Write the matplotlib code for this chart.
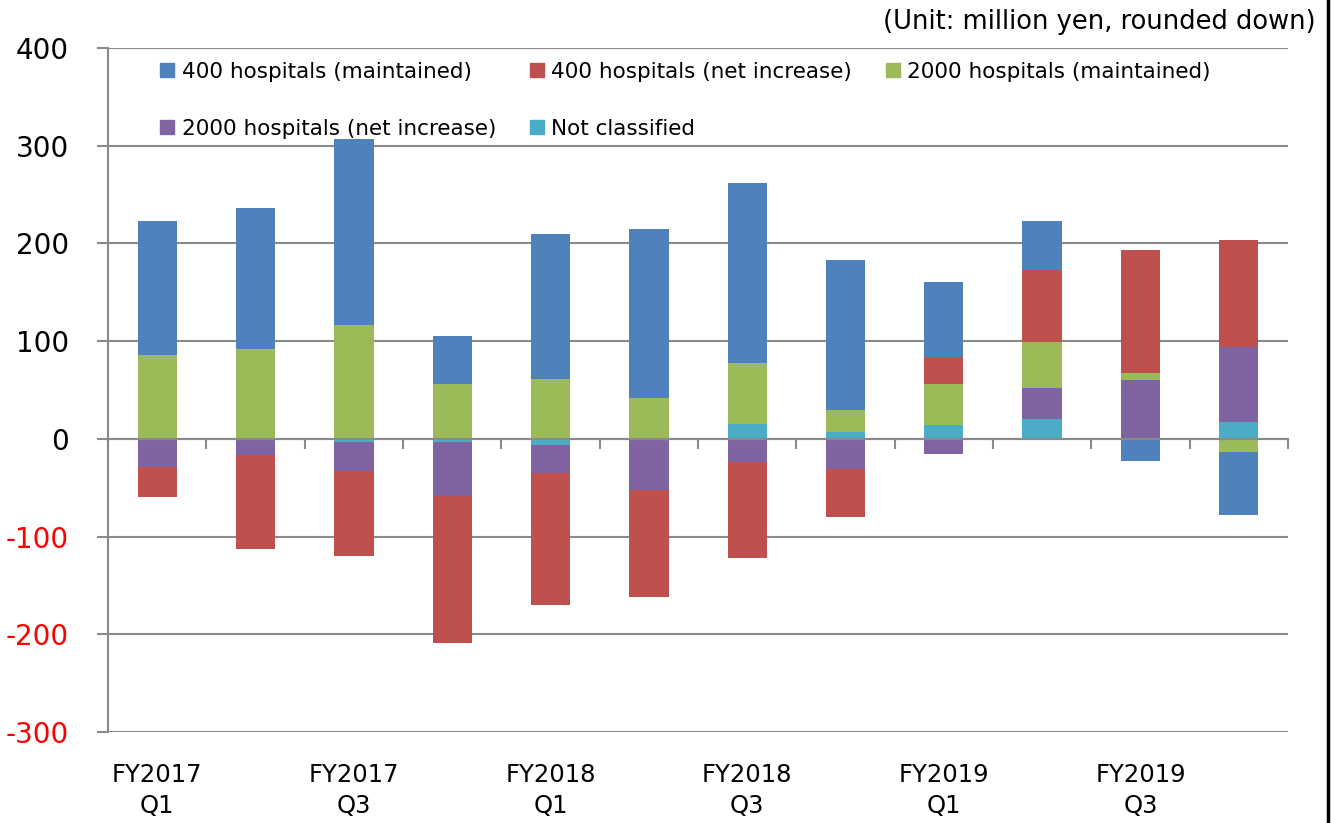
import numpy as np
import matplotlib
matplotlib.use("Agg")
import matplotlib.pyplot as plt
from matplotlib.patches import Patch
from matplotlib.lines import Line2D

plt.rcParams['font.family'] = ['DejaVu Sans']
plt.rcParams['axes.unicode_minus'] = False

# quarters FY2017 Q1 .. FY2019 Q4
quarters = ["FY2017\nQ1", "FY2017\nQ2", "FY2017\nQ3", "FY2017\nQ4",
            "FY2018\nQ1", "FY2018\nQ2", "FY2018\nQ3", "FY2018\nQ4",
            "FY2019\nQ1", "FY2019\nQ2", "FY2019\nQ3", "FY2019\nQ4"]

# million yen
h400_maintained = [137, 144, 190, 49, 149, 173, 184, 154, 77, 50, -23, -65]
h400_increase = [-31, -96, -87, -150, -135, -110, -98, -49, 28, 74, 126, 109]
h2000_maintained = [86, 91, 117, 56, 61, 42, 63, 22, 42, 47, 7, -13]
h2000_increase = [-29, -17, -30, -56, -29, -52, -24, -31, -16, 32, 60, 77]
not_classified = [0, 1, -3, -3, -6, 0, 15, 7, 14, 20, 0, 17]

labels = ["400 hospitals (maintained)", "400 hospitals (net increase)",
          "2000 hospitals (maintained)", "2000 hospitals (net increase)",
          "Not classified"]
colors = ["#4F81BD", "#C0504D", "#9BBB59", "#8064A2", "#4BACC6"]

series = [h400_maintained, h400_increase, h2000_maintained, h2000_increase, not_classified]

fig = plt.figure(figsize=(13.34, 8.23), dpi=100)
ax = fig.add_axes([0.081, 0.1106, 0.8845, 0.8311])

x = np.arange(len(quarters))
pos_base = np.zeros(len(x))
neg_base = np.zeros(len(x))
# stacked from the zero line outward: not classified first, 400 (maintained) last
for vals, col in zip(series[::-1], colors[::-1]):
    v = np.array(vals, dtype=float)
    p = np.where(v > 0, v, 0)
    n = np.where(v < 0, v, 0)
    ax.bar(x, p, 0.4, bottom=pos_base, color=col, zorder=3)
    ax.bar(x, n, 0.4, bottom=neg_base, color=col, zorder=3)
    pos_base += p
    neg_base += n

ax.set_xlim(-0.5, 11.5)
ax.set_ylim(-300, 400)
ax.set_yticks(range(-300, 401, 100))
ax.yaxis.grid(True, color="#8a8a8a", lw=1.5, zorder=0)
ax.tick_params(axis='y', length=8, width=1.5, color="#8a8a8a", pad=20, labelsize=20)
for t in ax.get_yticklabels():
    if t.get_text().startswith('-'):
        t.set_color('red')

for s in ['top', 'right']:
    ax.spines[s].set_visible(False)
ax.spines['left'].set_color("#8a8a8a")
ax.spines['left'].set_linewidth(1.5)
ax.spines['bottom'].set_position(('data', 0))
ax.spines['bottom'].set_color("#8a8a8a")
ax.spines['bottom'].set_linewidth(1.5)
ax.spines['bottom'].set_zorder(4)
ax.set_xticks(np.arange(-0.5, 12, 1))
ax.set_xticklabels([])
ax.tick_params(axis='x', length=7, width=1.5, color="#8a8a8a")

sec = ax.secondary_xaxis('bottom')
sec.set_xticks(x[::2])
sec.set_xticklabels(quarters[::2], fontsize=17.5, linespacing=1.4)
sec.tick_params(length=0, pad=22)
sec.spines['bottom'].set_visible(False)

handles = [Patch(color=c) for c in colors]
order = [0, 3, 1, 4, 2]
fig.legend([handles[i] for i in order], [labels[i] for i in order],
           loc='upper left', bbox_to_anchor=(0.12, 0.925), ncol=3,
           frameon=False, fontsize=15.5, handlelength=0.65, handleheight=0.65,
           handletextpad=0.35, columnspacing=1.57, labelspacing=1.72,
           borderpad=0, borderaxespad=0)

fig.text(0.986, 0.973, "(Unit: million yen, rounded down)", ha='right', va='center', fontsize=18.5)
fig.add_artist(Line2D([0.9955, 0.9955], [0, 1], transform=fig.transFigure, color='black', lw=2.5))

fig.savefig("out.png", dpi=100)
